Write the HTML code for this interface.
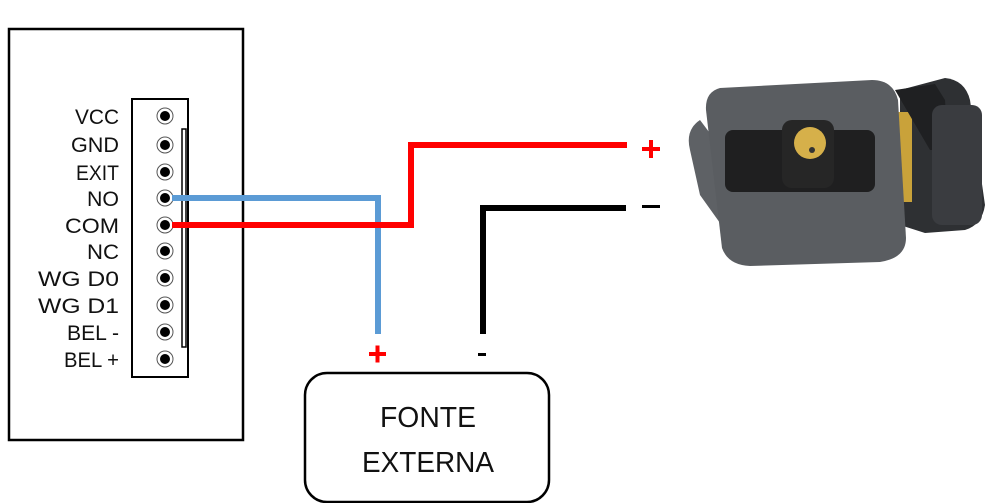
<!DOCTYPE html>
<html><head><meta charset="utf-8"><style>
body{margin:0;background:#fff;}
svg{display:block}
text{font-family:"Liberation Sans",sans-serif;}
</style></head><body>
<svg width="1008" height="503" viewBox="0 0 1008 503" xmlns="http://www.w3.org/2000/svg">
<rect x="9" y="29" width="234" height="411" fill="none" stroke="#000" stroke-width="2.5"/>
<rect x="132" y="99" width="56" height="278" fill="#fff" stroke="#000" stroke-width="2"/>
<rect x="182" y="129" width="4" height="218" fill="#fff" stroke="#000" stroke-width="1.5"/>
<g font-size="21" text-anchor="end" fill="#111">
<text x="119" y="124" textLength="44" lengthAdjust="spacingAndGlyphs">VCC</text>
<text x="119" y="152" textLength="48" lengthAdjust="spacingAndGlyphs">GND</text>
<text x="119" y="180" textLength="43" lengthAdjust="spacingAndGlyphs">EXIT</text>
<text x="119" y="206" textLength="32" lengthAdjust="spacingAndGlyphs">NO</text>
<text x="119" y="233" textLength="54" lengthAdjust="spacingAndGlyphs">COM</text>
<text x="119" y="259" textLength="32" lengthAdjust="spacingAndGlyphs">NC</text>
<text x="119" y="286" textLength="81" lengthAdjust="spacingAndGlyphs">WG  D0</text>
<text x="119" y="313" textLength="81" lengthAdjust="spacingAndGlyphs">WG  D1</text>
<text x="119" y="340" textLength="52" lengthAdjust="spacingAndGlyphs">BEL -</text>
<text x="119" y="367" textLength="55" lengthAdjust="spacingAndGlyphs">BEL +</text>
</g>
<g fill="#000">
<circle cx="165" cy="116" r="8" fill="#fff" stroke="#555"/><circle cx="165" cy="116" r="5"/>
<circle cx="165" cy="145" r="8" fill="#fff" stroke="#555"/><circle cx="165" cy="145" r="5"/>
<circle cx="165" cy="172" r="8" fill="#fff" stroke="#555"/><circle cx="165" cy="172" r="5"/>
<circle cx="165" cy="198" r="8" fill="#fff" stroke="#555"/><circle cx="165" cy="198" r="5"/>
<circle cx="165" cy="225" r="8" fill="#fff" stroke="#555"/><circle cx="165" cy="225" r="5"/>
<circle cx="165" cy="251" r="8" fill="#fff" stroke="#555"/><circle cx="165" cy="251" r="5"/>
<circle cx="165" cy="278" r="8" fill="#fff" stroke="#555"/><circle cx="165" cy="278" r="5"/>
<circle cx="165" cy="305" r="8" fill="#fff" stroke="#555"/><circle cx="165" cy="305" r="5"/>
<circle cx="165" cy="332" r="8" fill="#fff" stroke="#555"/><circle cx="165" cy="332" r="5"/>
<circle cx="165" cy="359" r="8" fill="#fff" stroke="#555"/><circle cx="165" cy="359" r="5"/>
</g>
<polyline points="172,198 378,198 378,334" fill="none" stroke="#5b9bd5" stroke-width="6"/>
<polyline points="172,225 411,225 411,145 627,145" fill="none" stroke="#f00" stroke-width="6"/>
<polyline points="483,334 483,208 626,208" fill="none" stroke="#000" stroke-width="6"/>
<rect x="642" y="147" width="18" height="4" fill="#f00"/><rect x="649" y="140" width="4" height="18" fill="#f00"/>
<rect x="642" y="205" width="18" height="3" fill="#000"/>
<rect x="369" y="352" width="17" height="4" fill="#f00"/><rect x="375.5" y="345.5" width="4" height="17" fill="#f00"/>
<rect x="478" y="353" width="8" height="3" fill="#000"/>
<rect x="305" y="373" width="244" height="129" rx="22" fill="#fff" stroke="#000" stroke-width="2.5"/>
<text x="428" y="427" font-size="29" text-anchor="middle" fill="#111" textLength="96" lengthAdjust="spacingAndGlyphs">FONTE</text>
<text x="428" y="472" font-size="29" text-anchor="middle" fill="#111" textLength="132" lengthAdjust="spacingAndGlyphs">EXTERNA</text>
<!-- lock -->
<path d="M900,90 L945,78 Q965,80 970,100 L985,205 Q982,225 965,230 L925,233 L900,225 Z" fill="#2e3033"/>
<rect x="898" y="112" width="14" height="90" fill="#c9a23a"/>
<path d="M700,120 Q685,130 690,150 L700,195 L725,230 L730,160 Z" fill="#5e6165"/>
<path d="M720,88 Q705,92 706,110 L722,248 Q728,265 750,266 L880,262 Q906,258 906,238 L898,100 Q893,80 872,80 Z" fill="#5a5d61"/>
<path d="M895,90 L935,84 L945,100 L948,150 L930,150 Z" fill="#1f2022"/>
<rect x="932" y="105" width="50" height="120" rx="10" fill="#3a3c40"/>
<rect x="725" y="130" width="150" height="62" rx="8" fill="#1f1f20"/>
<rect x="782" y="120" width="52" height="68" rx="10" fill="#262626"/>
<circle cx="810" cy="143" r="16" fill="#d6b04a"/>
<circle cx="812" cy="150" r="3" fill="#333"/>
</svg>
</body></html>
